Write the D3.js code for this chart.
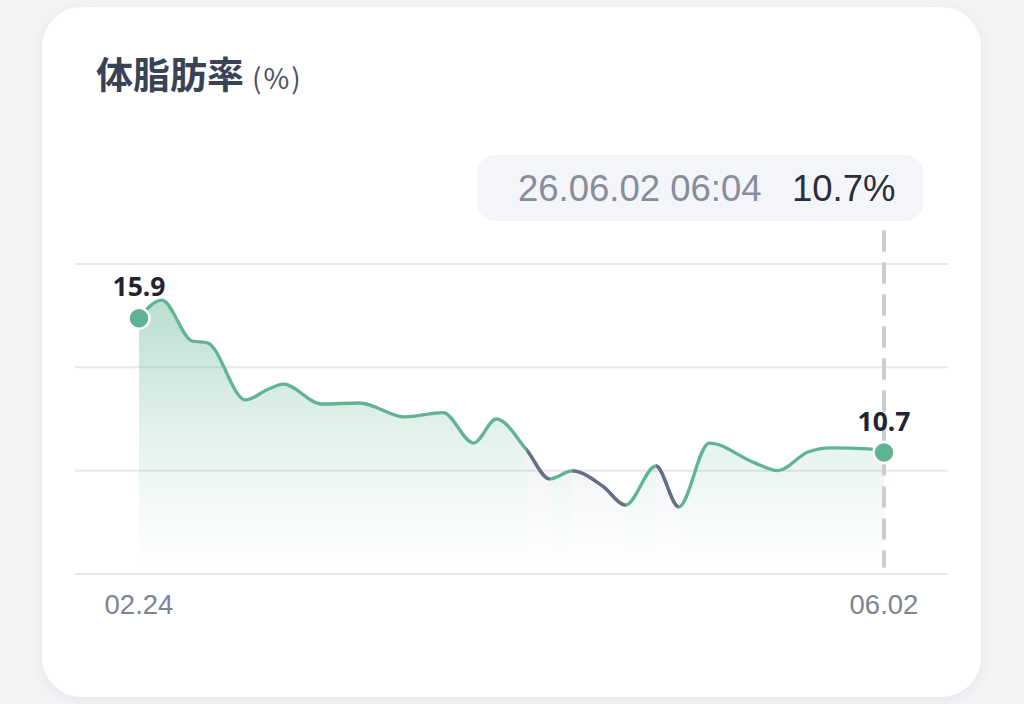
<!DOCTYPE html>
<html><head><meta charset="utf-8">
<script src="https://cdn.jsdelivr.net/npm/d3@7/dist/d3.min.js"></script>
<style>html,body{margin:0;padding:0;background:#f3f4f6;}svg{display:block}</style>
</head><body>
<svg id="c" width="1024" height="704"></svg>
<script>
// ---- data ----
const titleText = "体脂肪率";
const unitText = "(%)";
const dates = ["2026-02-24","2026-02-27","2026-03-03","2026-03-05","2026-03-10","2026-03-13","2026-03-15",
  "2026-03-20","2026-03-25","2026-03-31","2026-04-05","2026-04-09","2026-04-12","2026-04-16","2026-04-19",
  "2026-04-22","2026-04-26","2026-04-29","2026-05-03","2026-05-06","2026-05-10","2026-05-16","2026-05-19",
  "2026-05-23","2026-05-26","2026-05-31","2026-06-02"];
const values = [15.9,16.6,15.02,14.95,12.74,13.15,13.35,
  12.58,12.62,12.08,12.25,11.07,12.0,10.8,9.68,
  9.99,9.4,8.67,10.18,8.6,11.07,10.3,10.0,
  10.72,10.88,10.84,10.7];
const dipRanges = [["2026-04-16","2026-04-19"],["2026-04-22","2026-04-29"],["2026-05-03","2026-05-06"]];
const yTicks = [6,10,14,18];
const xTickDates = ["2026-02-24","2026-06-02"];
const tooltipTime = "26.06.02 06:04";
const tooltipValue = "10.7%";

// ---- drawing ----
const parse = d3.timeParse("%Y-%m-%d");
const fmt = d3.timeFormat("%m.%d");
const data = dates.map((d,i)=>({date:parse(d), value:values[i]}));
const svg = d3.select("#c");
const defs = svg.append("defs");

const sh = defs.append("filter").attr("id","sh").attr("x","-10%").attr("y","-10%").attr("width","120%").attr("height","120%");
sh.append("feDropShadow").attr("dx",0).attr("dy",3).attr("stdDeviation",7).attr("flood-color","#1f2a44").attr("flood-opacity",0.06);

svg.append("rect").attr("x",42).attr("y",7).attr("width",939).attr("height",690).attr("rx",40)
  .attr("fill","#ffffff").attr("filter","url(#sh)");

// title
const t = svg.append("text").attr("x",96).attr("y",89).attr("font-family","'Noto Sans CJK JP','Noto Sans',sans-serif");
t.append("tspan").attr("font-size",37).attr("font-weight",700).attr("fill","#394256").text(titleText);
t.append("tspan").attr("dx",8).attr("font-size",28).attr("letter-spacing",2).attr("font-weight",400).attr("fill","#4a5164").text(unitText);

const x = d3.scaleTime().domain([data[0].date, data[data.length-1].date]).range([139,884]);
const y = d3.scaleLinear().domain([6,18]).range([574,264]);

// grid
svg.append("g").selectAll("line").data(yTicks).join("line")
  .attr("x1",75).attr("x2",948).attr("y1",d=>y(d)).attr("y2",d=>y(d))
  .attr("stroke","#e7e8eb").attr("stroke-width",2);

// gradients
const gG = defs.append("linearGradient").attr("id","gG").attr("gradientUnits","userSpaceOnUse")
  .attr("x1",0).attr("x2",0).attr("y1",y(17)).attr("y2",y(6.4));
gG.append("stop").attr("offset",0).attr("stop-color","#5fb391").attr("stop-opacity",0.45);
gG.append("stop").attr("offset",0.55).attr("stop-color","#5fb391").attr("stop-opacity",0.16);
gG.append("stop").attr("offset",1).attr("stop-color","#5fb391").attr("stop-opacity",0.0);
const gP = defs.append("linearGradient").attr("id","gP").attr("gradientUnits","userSpaceOnUse")
  .attr("x1",0).attr("x2",0).attr("y1",y(11)).attr("y2",y(6.4));
gP.append("stop").attr("offset",0).attr("stop-color","#7d7a9c").attr("stop-opacity",0.10);
gP.append("stop").attr("offset",1).attr("stop-color","#7d7a9c").attr("stop-opacity",0.0);

const curve = d3.curveMonotoneX;
const area = d3.area().x(d=>x(d.date)).y0(y(6)).y1(d=>y(d.value)).curve(curve);
const line = d3.line().x(d=>x(d.date)).y(d=>y(d.value)).curve(curve);

// clips: dip ranges and their complement
const dipX = dipRanges.map(r=>[x(parse(r[0])), x(parse(r[1]))]);
const cp = defs.append("clipPath").attr("id","dip");
cp.selectAll("rect").data(dipX).join("rect")
  .attr("x",d=>d[0]).attr("width",d=>d[1]-d[0]).attr("y",0).attr("height",704);
const gaps = [];
let prev = 0;
dipX.forEach(r=>{gaps.push([prev,r[0]]); prev=r[1];});
gaps.push([prev,1024]);
const cn = defs.append("clipPath").attr("id","nodip");
cn.selectAll("rect").data(gaps).join("rect")
  .attr("x",d=>d[0]).attr("width",d=>d[1]-d[0]).attr("y",0).attr("height",704);

svg.append("path").datum(data).attr("d",area).attr("fill","url(#gG)").attr("clip-path","url(#nodip)");
svg.append("path").datum(data).attr("d",area).attr("fill","url(#gP)").attr("clip-path","url(#dip)");

// dashed marker line
const last = data[data.length-1];
svg.append("line").attr("x1",x(last.date)).attr("x2",x(last.date)).attr("y1",232).attr("y2",566)
  .attr("stroke","#cbccd1").attr("stroke-width",4).attr("stroke-dasharray","18 14").attr("stroke-linecap","round");

svg.append("path").datum(data).attr("d",line).attr("fill","none").attr("stroke","#62b394").attr("stroke-width",3.3);
svg.append("path").datum(data).attr("d",line).attr("fill","none").attr("stroke","#686c84").attr("stroke-width",3.3).attr("clip-path","url(#dip)");

// end dots + labels
const ends = [data[0], last];
svg.selectAll("circle.e").data(ends).join("circle").attr("class","e")
  .attr("cx",d=>x(d.date)).attr("cy",d=>y(d.value)).attr("r",10.5)
  .attr("fill","#5fb391").attr("stroke","#ffffff").attr("stroke-width",2.5);
svg.selectAll("text.v").data(ends).join("text").attr("class","v")
  .attr("x",d=>x(d.date)).attr("y",d=>y(d.value)-22).attr("text-anchor","middle")
  .attr("font-family","'Noto Sans',sans-serif").attr("font-weight",700).attr("font-size",26.5)
  .attr("fill","#1f2430").text(d=>d3.format(".1f")(d.value));

// x tick labels
svg.selectAll("text.xt").data(xTickDates).join("text").attr("class","xt")
  .attr("x",d=>x(parse(d))).attr("y",614).attr("text-anchor","middle")
  .attr("font-family","'Liberation Sans',Arial,sans-serif").attr("font-size",27.5)
  .attr("fill","#7d8393").text(d=>fmt(parse(d)));

// tooltip
svg.append("rect").attr("x",477).attr("y",155).attr("width",446).attr("height",66).attr("rx",18).attr("fill","#f4f5f8");
const tt = svg.append("text").attr("y",201).attr("font-family","'Liberation Sans',Arial,sans-serif").attr("font-size",36.5);
tt.append("tspan").attr("x",518).attr("fill","#878d9c").text(tooltipTime);
tt.append("tspan").attr("x",792).attr("fill","#2a2f3b").text(tooltipValue);
</script>
</body></html>
